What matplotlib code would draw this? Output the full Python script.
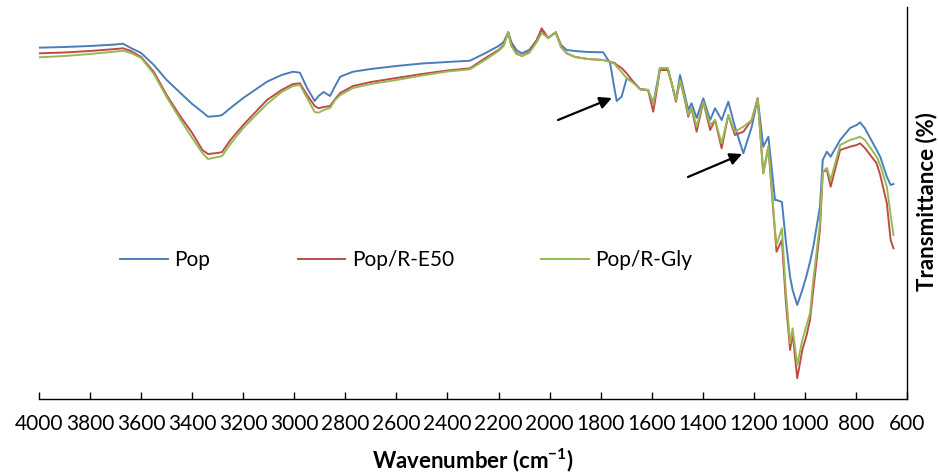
import numpy as np
import matplotlib.pyplot as plt

plt.rcParams['font.family'] = ['Lato', 'DejaVu Sans']
plt.rcParams['mathtext.default'] = 'regular'

# wavenumber grid (cm-1) shared by the three spectra
wn = [4000, 3900, 3800, 3700, 3671, 3640, 3600, 3550, 3500, 3450, 3400, 3360, 3338, 3300, 3283,
      3250, 3200, 3107, 3050, 3005, 2978, 2950, 2920, 2905, 2885, 2860, 2840, 2820, 2770, 2700,
      2600, 2500, 2400, 2312, 2253, 2200, 2180, 2162, 2150, 2130, 2109, 2080, 2050, 2031, 2006,
      1976, 1955, 1933, 1900, 1850, 1790, 1763, 1745, 1737, 1718, 1698, 1672, 1645, 1614, 1594,
      1580, 1568, 1537, 1520, 1505, 1489, 1470, 1457, 1444, 1424, 1398, 1371, 1352, 1326, 1300,
      1274, 1241, 1208, 1185, 1163, 1143, 1117, 1111, 1090, 1075, 1058, 1048, 1030, 1010, 993,
      980, 967, 941, 930, 914, 899, 862, 823, 797, 784, 765, 719, 705, 679, 664, 653]

# depth of each spectrum below the top of the plot
pop = [47.7, 47, 46, 44.5, 43.7, 48, 53, 65, 80, 92, 104, 112, 116.7, 116, 115,
       108, 98, 81.7, 75, 71.7, 72.7, 88, 101, 96, 92, 96, 86, 76.7, 71.7, 69,
       66, 63.5, 62, 60.7, 53.3, 46, 42, 32.3, 42, 50, 53.3, 50, 40, 30, 38,
       32.3, 45, 50, 51, 52, 52.3, 63, 90, 101, 96.7, 78.3, 81.7, 89.3, 90, 103.3,
       85, 68.3, 68.3, 85, 100, 75, 95, 110, 103.3, 118, 98.3, 120, 108.3, 120, 101.7,
       126.7, 153.3, 126.7, 98.3, 146.7, 136.7, 200, 200, 202, 240, 276.7, 290, 305, 290, 275,
       262, 246.7, 206.7, 160, 151.7, 156.7, 140, 128, 125, 122.3, 128.3, 150, 156.7, 176.7, 185, 184]

pop_e50 = [53.3, 52.5, 51, 49, 48.3, 51, 57, 72, 95, 115, 133, 150, 154, 153, 152,
           140, 125, 100, 90, 84, 83.3, 95, 106, 108.3, 107, 106, 99, 93, 86, 82,
           78, 74, 70.5, 68.3, 58.3, 50, 45, 32.3, 45, 53, 56, 52, 40, 28.3, 38,
           32.3, 47, 53.3, 57, 59, 60, 61.7, 63, 65, 68, 73.3, 82, 89.3, 90, 111.7,
           90, 70, 70, 85, 101.7, 80, 100, 116.7, 108, 131.7, 101.7, 130, 120, 148.3, 115,
           135, 131.7, 120, 98.3, 173.3, 146.7, 233, 251.7, 240, 300, 350, 333.3, 378.3, 350, 335,
           320, 290, 230, 172, 170, 186.7, 150, 146.7, 145, 143.3, 148, 163.3, 175, 203.3, 240, 248.3]

pop_gly = [57.3, 56, 54, 51.5, 50.7, 53, 58, 74, 97, 118, 138, 153, 159, 157, 156,
           144, 128, 104, 92, 86, 85, 98, 112, 112.7, 110, 108, 100, 95, 88, 84,
           80, 75.5, 71.5, 69.3, 60, 51, 46, 32.3, 46, 54, 56, 53, 42, 33, 38,
           32.3, 47, 53.3, 57, 59, 60, 61.7, 64, 66.7, 72, 78.3, 83, 89.3, 90, 103.3,
           88, 68.3, 68.3, 85, 100, 80, 98, 115, 108, 126.7, 101.7, 125, 120, 143.3, 115,
           131.7, 126.7, 120, 98.3, 173.3, 146.7, 230, 245, 228.3, 290, 343.3, 328.3, 365, 340, 325,
           313.3, 280, 223.3, 172, 168, 180, 145, 140, 138, 136.7, 140, 156.7, 165, 186.7, 215, 235]

labels = ['Pop', 'Pop/R-E50', 'Pop/R-Gly']
colors = ['#4A7EBB', '#BE4B48', '#98B954']
xticks = list(range(4000, 599, -200))

fig = plt.figure(figsize=(9.38, 4.75), dpi=100)
ax = fig.add_axes([39 / 938, 1 - 399 / 475, 868 / 938, 392 / 475])

for series, lab, col in zip([pop, pop_e50, pop_gly], labels, colors):
    ax.plot(wn, 400 - np.array(series), color=col, lw=1.4, label=lab)

ax.set_xlim(4000, 600)
ax.set_ylim(1, 393)
ax.set_xticks(xticks)
ax.set_yticks([])
ax.tick_params(axis='x', direction='in', length=5, width=1, labelsize=15, pad=11)
for s in ['left', 'top']:
    ax.spines[s].set_visible(False)
ax.spines['bottom'].set_linewidth(1)
ax.spines['right'].set_linewidth(1)

ax.set_xlabel('Wavenumber (cm$^{-1}$)', fontsize=16, fontweight='bold', labelpad=9)
fig.text(927 / 938, 1 - 202 / 475, 'Transmittance (%)', rotation=90, fontsize=16,
         fontweight='bold', ha='center', va='center')

arrow = dict(arrowstyle='-|>', color='black', lw=1.6, mutation_scale=18, shrinkA=0, shrinkB=0)
ax.annotate('', xy=(1756, 302), xytext=(1967, 280), arrowprops=arrow)
ax.annotate('', xy=(1246, 246), xytext=(1458, 223), arrowprops=arrow)

ax.legend(loc='center left', bbox_to_anchor=(0.0933, 0.355), ncol=3, frameon=False,
          borderpad=0, borderaxespad=0, fontsize=15, handlelength=2.3,
          handletextpad=0.3, columnspacing=4.2)

fig.savefig('out.png', dpi=100)
